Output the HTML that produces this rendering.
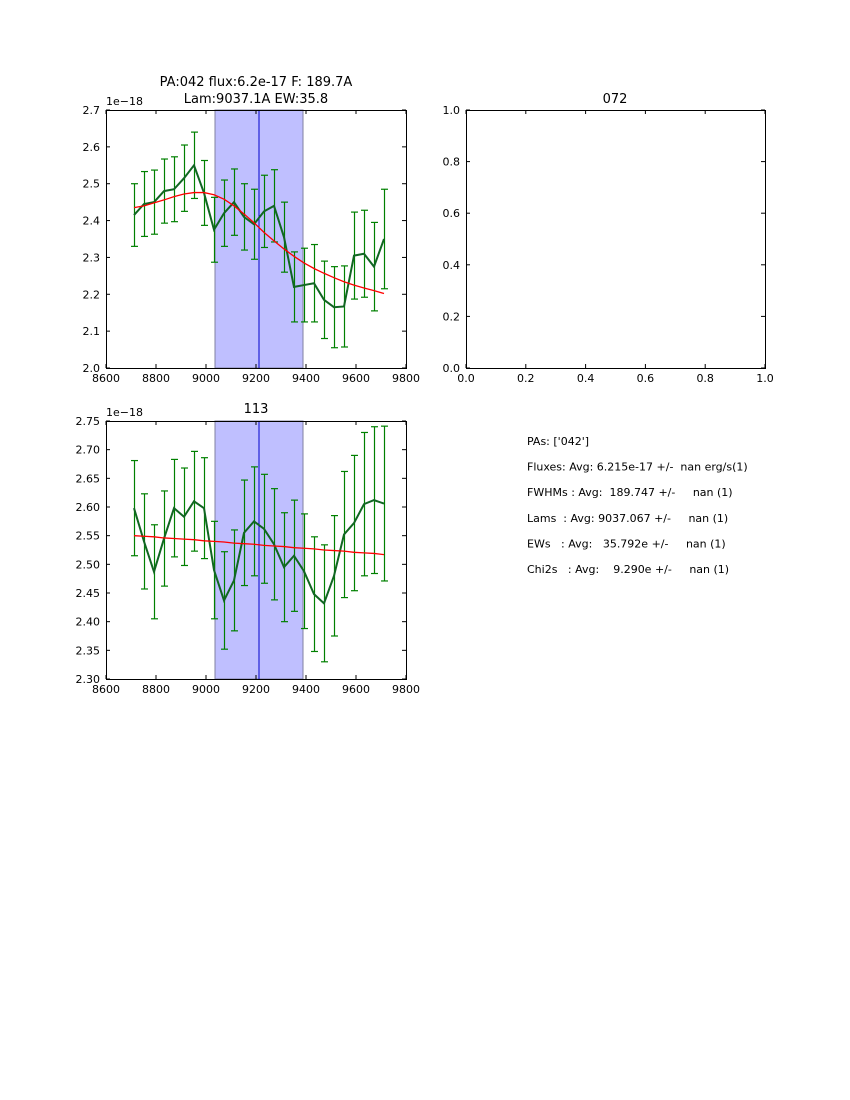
<!DOCTYPE html>
<html><head><meta charset="utf-8"><style>
body{margin:0;background:#fff;}
svg{display:block;font-family:"DejaVu Sans","Liberation Sans",sans-serif;}
</style></head><body>
<svg id="fig" width="850" height="1100">
<rect width="850" height="1100" fill="#fff"/>
</svg>
<script>
const xs = [8712,8752,8792,8832,8872,8912,8952,8992,9032,9072,9112,9152,9192,9232,9272,9312,9352,9392,9432,9472,9512,9552,9592,9632,9672,9712];
const topVals = [2.415,2.445,2.45,2.48,2.485,2.515,2.55,2.475,2.375,2.42,2.45,2.41,2.39,2.425,2.44,2.355,2.22,2.225,2.23,2.185,2.165,2.167,2.305,2.31,2.275,2.35];
const topErr = [0.085,0.088,0.087,0.087,0.088,0.09,0.09,0.088,0.088,0.09,0.09,0.09,0.095,0.098,0.098,0.095,0.095,0.1,0.105,0.105,0.11,0.11,0.118,0.118,0.12,0.135];
const topFit = [2.435,2.44,2.448,2.456,2.465,2.472,2.476,2.476,2.47,2.458,2.44,2.418,2.394,2.368,2.345,2.323,2.303,2.285,2.27,2.257,2.245,2.234,2.225,2.217,2.21,2.202];
const botVals = [2.598,2.54,2.487,2.545,2.598,2.583,2.61,2.598,2.49,2.437,2.472,2.555,2.575,2.562,2.535,2.495,2.515,2.488,2.448,2.432,2.48,2.552,2.572,2.605,2.612,2.606];
const botErr = [0.083,0.083,0.082,0.083,0.085,0.085,0.087,0.088,0.085,0.085,0.088,0.092,0.095,0.095,0.097,0.095,0.097,0.1,0.1,0.102,0.105,0.11,0.118,0.125,0.128,0.135];
const botFit = [2.55,2.549,2.548,2.546,2.545,2.544,2.543,2.541,2.54,2.539,2.537,2.536,2.535,2.533,2.532,2.531,2.529,2.528,2.527,2.525,2.524,2.523,2.521,2.52,2.519,2.517];
const xTicks = [8600,8800,9000,9200,9400,9600,9800];
const topYTicks = [2.0,2.1,2.2,2.3,2.4,2.5,2.6,2.7];
const botYTicks = [2.30,2.35,2.40,2.45,2.50,2.55,2.60,2.65,2.70,2.75];
const emptyTicks = [0.0,0.2,0.4,0.6,0.8,1.0];
const band = [9036,9388];
const lineCenter = 9212;

const NS="http://www.w3.org/2000/svg";
const svg=document.getElementById('fig');
function mk(tag,attrs,parent){const e=document.createElementNS(NS,tag);for(const k in attrs)e.setAttribute(k,attrs[k]);(parent||svg).appendChild(e);return e;}
function txt(s,x,y,anchor,size,parent){const t=mk('text',{x:x,y:y,'text-anchor':anchor,'font-size':size,fill:'#000'},parent);t.textContent=s;return t;}

function axes(name,L,T,W,H,xmin,xmax,ymin,ymax,xt,yt,xfmt,yfmt){
  const g=mk('g',{});
  
  
  const sx=v=>L+(v-xmin)/(xmax-xmin)*W, sy=v=>T+H-(v-ymin)/(ymax-ymin)*H;
  return {g,sx,sy,finish(){
    mk('rect',{x:L+0.5,y:T+0.5,width:W,height:H,fill:'none',stroke:'#000','stroke-width':1},g);
    xt.forEach(v=>{const x=sx(v);mk('line',{x1:x,x2:x,y1:T+H,y2:T+H-4,stroke:'#000'},g);mk('line',{x1:x,x2:x,y1:T,y2:T+4,stroke:'#000'},g);
      const t=txt(xfmt(v),x,T+H+14,'middle',11,g);});
    yt.forEach(v=>{const y=sy(v);mk('line',{x1:L,x2:L+4,y1:y,y2:y,stroke:'#000'},g);mk('line',{x1:L+W,x2:L+W-4,y1:y,y2:y,stroke:'#000'},g);
      const t=txt(yfmt(v),L-6,y+4,'end',11,g);});
  }};
}

function specPanel(name,L,T,W,H,ymin,ymax,yt,yfmt,vals,errs,fit){
  const a=axes(name,L,T,W,H,8600,9800,ymin,ymax,xTicks,yt,v=>String(v),yfmt);
  const g=a.g,sx=a.sx,sy=a.sy;
  const b=mk('rect',{x:sx(band[0]),y:T,width:sx(band[1])-sx(band[0]),height:H,fill:'#bfbfff',stroke:'#8080a0','stroke-width':1},g);
  
  const c=mk('line',{x1:sx(lineCenter),x2:sx(lineCenter),y1:T,y2:T+H,stroke:'#0000cc','stroke-width':1},g);
  
  xs.forEach((x,i)=>{const px=Math.round(sx(x))+0.5,y1=sy(vals[i]-errs[i]),y2=sy(vals[i]+errs[i]);
    const e=mk('g',{stroke:'#008000','stroke-width':1.2},g);
    
    mk('line',{x1:px,x2:px,y1:y1,y2:y2},e);mk('line',{x1:px-3.5,x2:px+3.5,y1:y1,y2:y1},e);mk('line',{x1:px-3.5,x2:px+3.5,y1:y2,y2:y2},e);});
  const d=mk('polyline',{points:xs.map((x,i)=>sx(x)+','+sy(vals[i])).join(' '),fill:'none',stroke:'#116622','stroke-width':2},g);
  
  const f=mk('polyline',{points:xs.map((x,i)=>sx(x)+','+sy(fit[i])).join(' '),fill:'none',stroke:'#ff0000','stroke-width':1.3},g);
  
  a.finish();
  const o=txt('1e\u221218',L,T-5,'start',11,g);
}

specPanel('spectrum-pa042',106,110,300,258,2.0,2.7,topYTicks,v=>v.toFixed(1),topVals,topErr,topFit);
specPanel('spectrum-pa113',106,421,300,258,2.30,2.75,botYTicks,v=>v.toFixed(2),botVals,botErr,botFit);
const e=axes('empty-pa072',466,110,299,258,0,1,0,1,emptyTicks,emptyTicks,v=>v.toFixed(1),v=>v.toFixed(1));e.finish();

let t;
t=txt('PA:042 flux:6.2e-17 F: 189.7A',256,86,'middle',13);
t=txt('Lam:9037.1A EW:35.8',256,103,'middle',13);
t=txt('072',615,103,'middle',13);
t=txt('113',256,413,'middle',13);

const summary=["PAs: ['042']","Fluxes: Avg: 6.215e-17 +/-  nan erg/s(1)","FWHMs : Avg:  189.747 +/-     nan (1)","Lams  : Avg: 9037.067 +/-     nan (1)","EWs   : Avg:   35.792e +/-     nan (1)","Chi2s   : Avg:    9.290e +/-     nan (1)"];
summary.forEach((s,i)=>{const tt=txt(s,527,445+i*25.6,'start',11);tt.setAttribute('xml:space','preserve');tt.style.whiteSpace='pre';
  });
</script>
</body></html>
